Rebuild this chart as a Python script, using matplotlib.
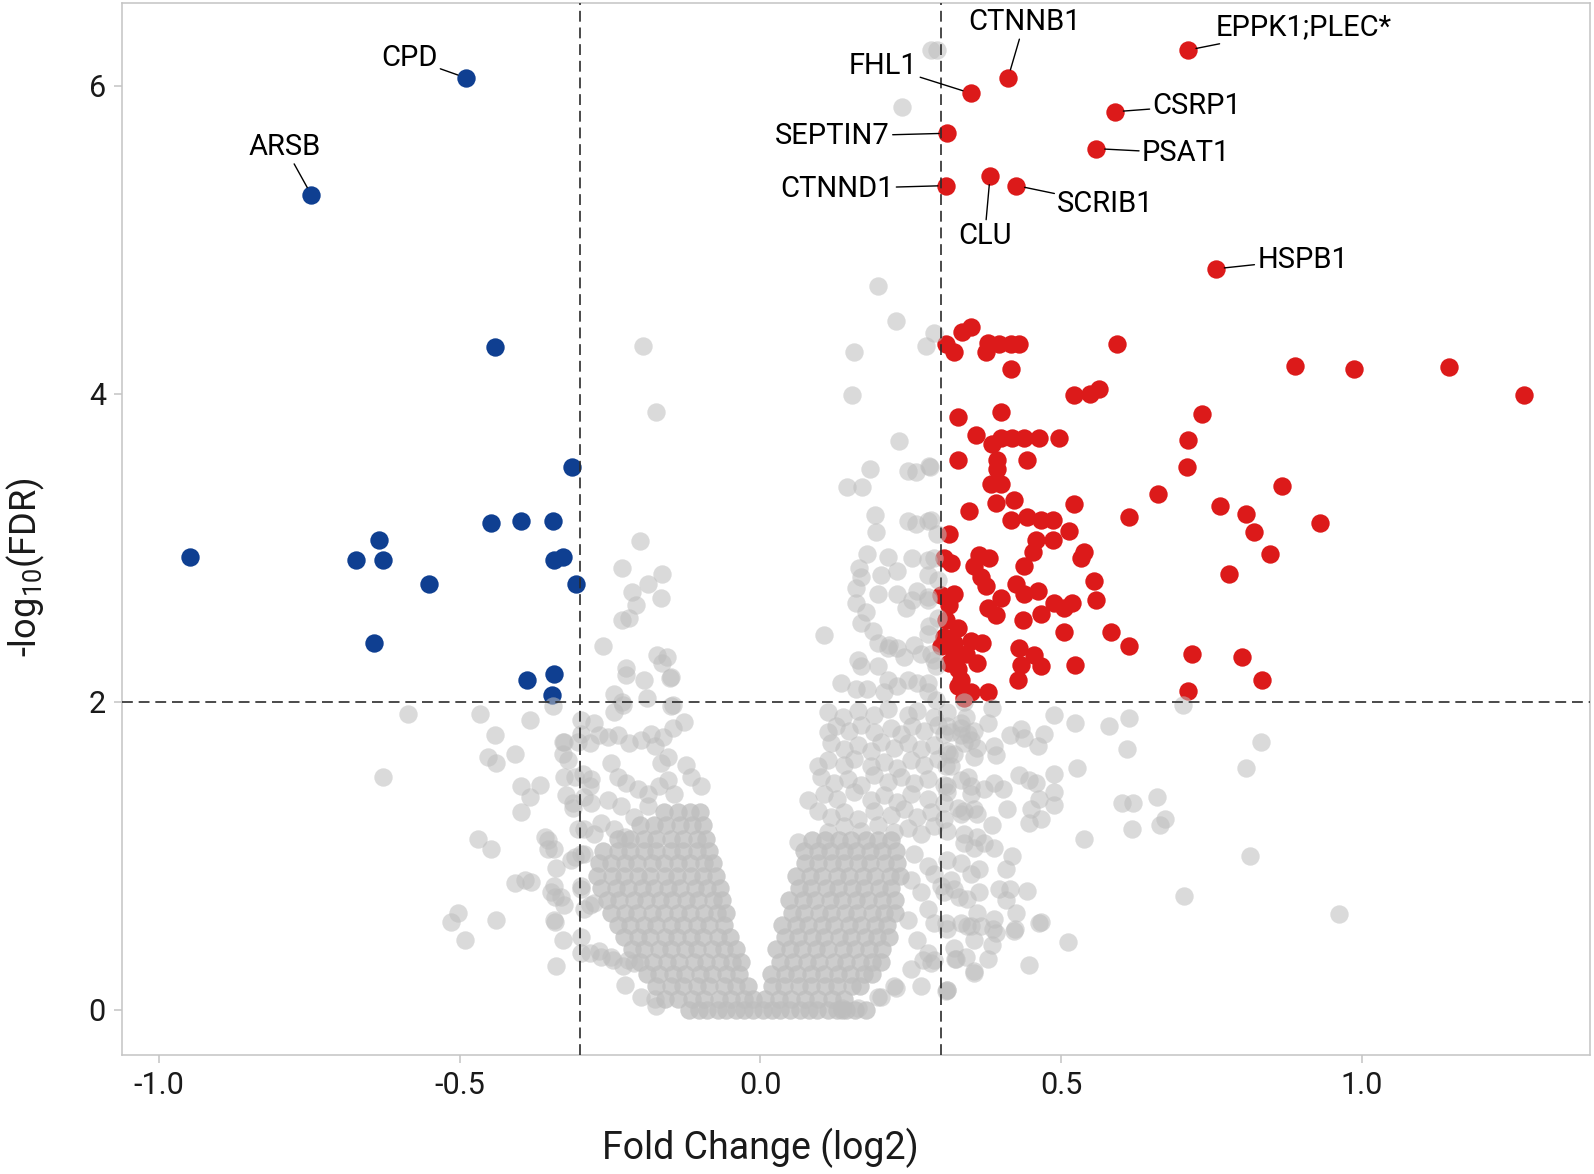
import matplotlib
matplotlib.use("Agg")
import matplotlib.pyplot as plt

plt.rcParams['font.family'] = ['Roboto', 'DejaVu Sans']
plt.rcParams['mathtext.default'] = 'regular'
plt.rcParams['axes.unicode_minus'] = False

# Thresholds
FC_CUT = 0.3
FDR_CUT = 2

# Labelled proteins: point (log2 FC, -log10 FDR) and label position
label_genes = ['CPD', 'ARSB', 'CTNNB1', 'EPPK1;PLEC*', 'FHL1', 'CSRP1',
               'SEPTIN7', 'PSAT1', 'CTNND1', 'CLU', 'SCRIB1', 'HSPB1']
label_fc = [-0.490, -0.747, 0.412, 0.711, 0.350, 0.590,
            0.311, 0.559, 0.309, 0.382, 0.426, 0.758]
label_fdr = [6.05, 5.29, 6.05, 6.23, 5.95, 5.83,
             5.69, 5.59, 5.35, 5.41, 5.35, 4.81]
label_text_x = [-0.584, -0.791, 0.439, 0.904, 0.204, 0.726,
                0.120, 0.708, 0.127, 0.373, 0.574, 0.902]
label_text_y = [6.18, 5.60, 6.41, 6.38, 6.13, 5.87,
                5.67, 5.56, 5.33, 5.02, 5.23, 4.87]

# Down-regulated (blue), unlabelled
down_fc = [-0.441, -0.314, -0.448, -0.399, -0.345, -0.948, -0.635, -0.672,
           -0.628, -0.343, -0.328, -0.306, -0.552, -0.642, -0.389, -0.343, -0.346]
down_fdr = [4.30, 3.52, 3.16, 3.17, 3.17, 2.94, 3.05, 2.92,
            2.92, 2.92, 2.94, 2.76, 2.76, 2.38, 2.14, 2.18, 2.04]

# Up-regulated (red), unlabelled
up_fc = [0.350, 0.336, 0.308, 0.322, 0.375, 0.378, 0.397, 0.417, 0.430, 0.417,
         0.594, 0.522, 0.549, 0.563, 0.328, 0.400, 0.358, 0.386, 0.400, 0.419,
         0.439, 0.464, 0.497, 0.328, 0.394, 0.394, 0.444, 0.383, 0.400, 0.392,
         0.422, 0.347, 0.522, 0.613, 0.417, 0.444, 0.466, 0.486, 0.513, 0.314,
         0.458, 0.486, 0.453, 0.364, 0.380, 0.306, 0.317, 0.538, 0.533, 0.356,
         0.367, 0.375, 0.439, 0.555, 0.425, 0.439, 0.461, 0.300, 0.322, 0.314,
         0.400, 0.378, 0.392, 0.558, 0.436, 0.466, 0.488, 0.505, 0.519, 0.308,
         0.328, 0.306, 0.505, 0.583, 0.613, 0.300, 0.322, 0.350, 0.369, 0.342,
         0.322, 0.430, 0.455, 0.466, 0.433, 0.524, 0.314, 0.328, 0.361, 0.333,
         0.328, 0.350, 0.378, 0.428, 0.338,
         0.889, 0.988, 1.145, 1.270, 0.735, 0.711, 0.709, 0.867, 0.662, 0.765,
         0.807, 0.821, 0.931, 0.848, 0.779, 0.718, 0.801, 0.835, 0.711]
up_fdr = [4.43, 4.40, 4.32, 4.27, 4.27, 4.33, 4.32, 4.32, 4.32, 4.16,
          4.32, 3.99, 4.00, 4.03, 3.85, 3.88, 3.73, 3.67, 3.71, 3.71,
          3.71, 3.71, 3.71, 3.57, 3.57, 3.51, 3.57, 3.41, 3.41, 3.29,
          3.31, 3.24, 3.28, 3.20, 3.18, 3.20, 3.18, 3.18, 3.11, 3.09,
          3.05, 3.05, 2.97, 2.95, 2.93, 2.93, 2.90, 2.97, 2.93, 2.88,
          2.81, 2.75, 2.88, 2.78, 2.76, 2.70, 2.72, 2.69, 2.70, 2.63,
          2.67, 2.61, 2.56, 2.66, 2.53, 2.57, 2.64, 2.61, 2.64, 2.53,
          2.48, 2.42, 2.45, 2.45, 2.36, 2.36, 2.38, 2.39, 2.38, 2.31,
          2.31, 2.35, 2.30, 2.23, 2.24, 2.24, 2.25, 2.21, 2.25, 2.14,
          2.10, 2.06, 2.06, 2.14, 2.02,
          4.18, 4.16, 4.17, 3.99, 3.87, 3.70, 3.52, 3.40, 3.35, 3.27,
          3.22, 3.10, 3.16, 2.96, 2.83, 2.31, 2.29, 2.14, 2.07]

# Not significant (grey), dense V-shaped core: rows of (-log10 FDR, [log2 FC ...])
gray_floor_fc = [-0.102, -0.088, -0.071, -0.058, -0.041, -0.027, -0.012, 0.004, 0.019,
                 0.033, 0.049, 0.066, 0.081, 0.094, 0.112, 0.127, 0.143, 0.158, 0.176,
                 -0.118, 0.136]

gray_left_rows = [
    (0.07, [-0.158, -0.137, -0.113, -0.093, -0.069, -0.049, -0.027, -0.012]),
    (0.15, [-0.173, -0.149, -0.128, -0.105, -0.085, -0.061, -0.041, -0.021]),
    (0.23, [-0.189, -0.168, -0.145, -0.125, -0.101, -0.081, -0.057, -0.036]),
    (0.31, [-0.201, -0.179, -0.155, -0.135, -0.111, -0.091, -0.067, -0.047, -0.033]),
    (0.39, [-0.213, -0.193, -0.169, -0.149, -0.125, -0.105, -0.081, -0.061, -0.041]),
    (0.47, [-0.227, -0.203, -0.183, -0.159, -0.139, -0.115, -0.095, -0.071, -0.050]),
    (0.55, [-0.237, -0.217, -0.193, -0.173, -0.149, -0.129, -0.105, -0.085, -0.061]),
    (0.63, [-0.249, -0.225, -0.205, -0.181, -0.161, -0.137, -0.117, -0.093, -0.073, -0.058]),
    (0.71, [-0.255, -0.235, -0.211, -0.191, -0.167, -0.147, -0.123, -0.103, -0.079, -0.064]),
    (0.79, [-0.265, -0.241, -0.221, -0.197, -0.177, -0.153, -0.133, -0.109, -0.089, -0.068]),
    (0.87, [-0.271, -0.247, -0.227, -0.203, -0.183, -0.159, -0.139, -0.115, -0.095, -0.074]),
    (0.95, [-0.269, -0.249, -0.225, -0.205, -0.181, -0.161, -0.137, -0.117, -0.093, -0.078]),
    (1.03, [-0.261, -0.237, -0.217, -0.193, -0.173, -0.149, -0.129, -0.105, -0.086]),
    (1.11, [-0.237, -0.217, -0.193, -0.173, -0.149, -0.129, -0.105, -0.090]),
    (1.20, [-0.201, -0.177, -0.157, -0.133, -0.113, -0.095]),
    (1.28, [-0.161, -0.137, -0.117, -0.100]),
]

gray_right_rows = [
    (0.07, [0.008, 0.031, 0.051, 0.075, 0.095, 0.119, 0.139]),
    (0.15, [0.019, 0.040, 0.064, 0.084, 0.108, 0.128, 0.152, 0.165]),
    (0.23, [0.018, 0.041, 0.061, 0.085, 0.105, 0.129, 0.149, 0.173, 0.185]),
    (0.31, [0.033, 0.054, 0.078, 0.098, 0.122, 0.142, 0.166, 0.186, 0.200]),
    (0.39, [0.026, 0.049, 0.069, 0.093, 0.113, 0.137, 0.157, 0.181, 0.202]),
    (0.47, [0.041, 0.062, 0.086, 0.106, 0.130, 0.150, 0.174, 0.194, 0.214]),
    (0.55, [0.036, 0.059, 0.079, 0.103, 0.123, 0.147, 0.167, 0.191, 0.211]),
    (0.63, [0.052, 0.073, 0.097, 0.117, 0.141, 0.161, 0.185, 0.205, 0.224]),
    (0.71, [0.048, 0.071, 0.091, 0.115, 0.135, 0.159, 0.179, 0.203, 0.224]),
    (0.79, [0.064, 0.085, 0.109, 0.129, 0.153, 0.173, 0.197, 0.217]),
    (0.87, [0.060, 0.083, 0.103, 0.127, 0.147, 0.171, 0.191, 0.215, 0.232]),
    (0.95, [0.074, 0.095, 0.119, 0.139, 0.163, 0.183, 0.207, 0.227]),
    (1.03, [0.072, 0.095, 0.115, 0.139, 0.159, 0.183, 0.203, 0.226]),
    (1.10, [0.086, 0.107, 0.131, 0.151, 0.175, 0.195, 0.218]),
]

# Not significant (grey), busy area above the right arm (log2 FC, -log10 FDR)
gray_upper_right = [
    (0.112, 1.15), (0.139, 1.19), (0.167, 1.16), (0.195, 1.20), (0.222, 1.15),
    (0.245, 1.18), (0.267, 1.14), (0.289, 1.19), (0.311, 1.16),
    (0.095, 1.29), (0.117, 1.25), (0.139, 1.28), (0.162, 1.24), (0.189, 1.29),
    (0.217, 1.26), (0.239, 1.30), (0.261, 1.25), (0.283, 1.28), (0.306, 1.24), (0.339, 1.29),
    (0.079, 1.36), (0.106, 1.40), (0.128, 1.37), (0.156, 1.41), (0.184, 1.36),
    (0.206, 1.39), (0.228, 1.35), (0.250, 1.40), (0.278, 1.37), (0.311, 1.41),
    (0.101, 1.51), (0.123, 1.47), (0.145, 1.50), (0.167, 1.46), (0.189, 1.52),
    (0.212, 1.48), (0.234, 1.51), (0.256, 1.47), (0.278, 1.50), (0.306, 1.46), (0.345, 1.51),
    (0.095, 1.58), (0.112, 1.62), (0.139, 1.59), (0.156, 1.63), (0.184, 1.58),
    (0.206, 1.61), (0.228, 1.57), (0.250, 1.62), (0.272, 1.59), (0.295, 1.63), (0.317, 1.58),
    (0.117, 1.73), (0.139, 1.69), (0.162, 1.72), (0.184, 1.68), (0.200, 1.74),
    (0.223, 1.70), (0.245, 1.73), (0.267, 1.69), (0.289, 1.72), (0.311, 1.68),
    (0.339, 1.73), (0.361, 1.70),
    (0.112, 1.80), (0.126, 1.84), (0.148, 1.81), (0.167, 1.85), (0.189, 1.80),
    (0.217, 1.83), (0.234, 1.79), (0.253, 1.84), (0.272, 1.81), (0.295, 1.85),
    (0.317, 1.80), (0.333, 1.83), (0.356, 1.81),
    (0.112, 1.93), (0.137, 1.90), (0.162, 1.94), (0.189, 1.91), (0.212, 1.95),
    (0.245, 1.91), (0.261, 1.94), (0.289, 1.90), (0.311, 1.93),
]

# Not significant (grey): scattered points
gray_fc = [
    # above the FDR line, right of zero
    0.284, 0.293, 0.235, 0.195, 0.225, 0.289, 0.275, 0.155, 0.153, 0.231,
    0.183, 0.245, 0.259, 0.282, 0.144, 0.169, 0.191, 0.193, 0.245, 0.259,
    0.278, 0.294, 0.177, 0.212, 0.228, 0.253, 0.289, 0.164, 0.167, 0.159,
    0.200, 0.195, 0.228, 0.261, 0.278, 0.295, 0.159, 0.176, 0.242, 0.253,
    0.278, 0.167, 0.187, 0.106, 0.281, 0.295, 0.214, 0.256, 0.281, 0.283,
    0.278, 0.278, 0.278, 0.283, 0.292, 0.278, 0.292, 0.195, 0.212, 0.228,
    0.239, 0.267, 0.289, 0.162, 0.167, 0.195, 0.212, 0.228, 0.245, 0.261,
    0.278, 0.134, 0.159, 0.178, 0.206,
    # above the FDR line, left of zero
    -0.196, -0.173, -0.201, -0.231, -0.214, -0.187, -0.163, -0.165, -0.207, -0.231,
    -0.218, -0.261, -0.172, -0.155, -0.163, -0.223, -0.193, -0.150, -0.244, -0.231,
    -0.189, -0.146, -0.223, -0.243, -0.229, -0.149, -0.149, -0.345,
    # below the FDR line, left side
    -0.586, -0.467, -0.384, -0.442, -0.453, -0.439, -0.409, -0.628, -0.398, -0.384,
    -0.367, -0.398, -0.329, -0.320, -0.326, -0.323, -0.312, -0.298, -0.276, -0.284,
    -0.298, -0.295, -0.284, -0.281, -0.293, -0.470, -0.448, -0.359, -0.353, -0.340,
    -0.315, -0.298, -0.409, -0.392, -0.381, -0.348, -0.342, -0.326, -0.298, -0.284,
    -0.503, -0.514, -0.492, -0.439, -0.342, -0.329, -0.340, -0.284, -0.268, -0.248,
    -0.221, -0.254, -0.268, -0.237, -0.218, -0.198, -0.182, -0.162, -0.146, -0.127,
    -0.176, -0.165, -0.154, -0.124, -0.115, -0.099, -0.309, -0.282, -0.312, -0.293,
    -0.248, -0.237, -0.223, -0.204, -0.187, -0.168, -0.154, -0.143, -0.254, -0.232,
    -0.210, -0.187, -0.265, -0.243, -0.226, -0.276, -0.304, -0.293, -0.309, -0.343,
    -0.354, -0.343, -0.331, -0.298, -0.276, -0.293, -0.343, -0.298, -0.298, -0.265,
    -0.246, -0.226, -0.229, -0.210, -0.174, -0.198, -0.176, -0.304, -0.326, -0.329,
    # below the FDR line, right side
    0.339, 0.342, 0.378, 0.386, 0.488, 0.524, 0.580, 0.613, 0.610, 0.703,
    0.833, 0.807, 0.527, 0.488, 0.430, 0.447, 0.458, 0.389, 0.392, 0.350,
    0.333, 0.311, 0.306, 0.314, 0.308, 0.311, 0.306, 0.333, 0.356, 0.350,
    0.372, 0.389, 0.403, 0.411, 0.386, 0.464, 0.488, 0.488, 0.450, 0.447,
    0.466, 0.361, 0.372, 0.389, 0.419, 0.408, 0.364, 0.339, 0.311, 0.317,
    0.306, 0.331, 0.364, 0.397, 0.416, 0.444, 0.408, 0.425, 0.389, 0.344,
    0.367, 0.392, 0.422, 0.464, 0.511, 0.386, 0.378, 0.325, 0.342, 0.356,
    0.447, 0.308, 0.308, 0.416, 0.439, 0.461, 0.472, 0.433, 0.602, 0.619,
    0.660, 0.673, 0.664, 0.618, 0.539, 0.814, 0.705, 0.962,
    0.256, 0.278, 0.250, 0.289, 0.267, 0.300, 0.278, 0.245, 0.289, 0.311,
    0.261, 0.278, 0.289, 0.250, 0.267, 0.311, 0.223, 0.200,
    0.333, 0.345, 0.322, 0.355, 0.333, 0.350, 0.328, 0.361, 0.339, 0.355,
    0.333, 0.350, 0.322, 0.344, 0.361, 0.333, 0.355, 0.322,
    0.226, 0.195, 0.163, 0.136, 0.356, 0.324, 0.311, 0.284, 0.270, 0.467,
    0.423, 0.387, 0.351, 0.062,
]
gray_fdr = [
    6.23, 6.23, 5.86, 4.70, 4.47, 4.39, 4.31, 4.27, 3.99, 3.69,
    3.51, 3.50, 3.49, 3.52, 3.39, 3.39, 3.21, 3.10, 3.17, 3.15,
    3.17, 3.09, 2.96, 2.94, 2.85, 2.93, 2.93, 2.87, 2.81, 2.74,
    2.82, 2.70, 2.70, 2.72, 2.82, 2.79, 2.64, 2.58, 2.61, 2.66,
    2.68, 2.51, 2.46, 2.43, 2.49, 2.54, 2.37, 2.37, 3.53, 3.18,
    2.92, 2.66, 2.44, 2.31, 2.23, 2.12, 2.01, 2.38, 2.35, 2.35,
    2.29, 2.31, 2.27, 2.27, 2.23, 2.23, 2.14, 2.10, 2.14, 2.12,
    2.06, 2.12, 2.08, 2.08, 2.06,
    4.31, 3.88, 3.04, 2.87, 2.71, 2.76, 2.83, 2.67, 2.63, 2.53,
    2.54, 2.36, 2.30, 2.29, 2.25, 2.22, 2.14, 2.15, 2.05, 2.00,
    2.02, 1.98, 2.17, 1.93, 1.98, 1.97, 2.16, 1.97,
    1.92, 1.92, 1.88, 1.78, 1.64, 1.60, 1.66, 1.51, 1.45, 1.38,
    1.46, 1.28, 1.74, 1.62, 1.51, 1.39, 1.31, 1.88, 1.86, 1.73,
    1.79, 1.53, 1.45, 1.34, 1.17, 1.11, 1.04, 1.12, 1.04, 0.92,
    0.97, 1.01, 0.82, 0.84, 0.83, 0.76, 0.73, 0.68, 0.78, 0.68,
    0.63, 0.57, 0.45, 0.58, 0.57, 0.45, 0.28, 0.37, 0.38, 0.34,
    0.32, 1.77, 1.78, 1.78, 1.73, 1.75, 1.79, 1.77, 1.83, 1.87,
    1.71, 1.60, 1.64, 1.59, 1.51, 1.45, 1.51, 1.50, 1.34, 1.38,
    1.60, 1.51, 1.47, 1.43, 1.40, 1.45, 1.49, 1.40, 1.36, 1.32,
    1.25, 1.32, 1.21, 1.17, 1.12, 1.14, 1.17, 1.01, 0.99, 1.04,
    1.10, 0.80, 0.73, 0.80, 0.69, 0.65, 0.58, 0.47, 0.37, 0.34,
    0.32, 0.16, 0.28, 0.30, 0.02, 0.08, 0.07, 1.74, 1.74, 1.66,
    2.00, 1.90, 1.86, 1.96, 1.91, 1.86, 1.84, 1.89, 1.69, 1.98,
    1.74, 1.57, 1.57, 1.53, 1.52, 1.49, 1.47, 1.71, 1.65, 1.75,
    1.78, 1.84, 1.79, 1.66, 1.58, 1.45, 1.34, 1.27, 1.30, 1.45,
    1.43, 1.47, 1.43, 1.30, 1.20, 1.37, 1.41, 1.33, 1.30, 1.21,
    1.24, 1.12, 1.08, 1.05, 1.00, 0.91, 0.91, 1.08, 0.97, 0.84,
    0.76, 0.73, 0.76, 0.78, 0.78, 0.77, 0.71, 0.63, 0.59, 0.54,
    0.54, 0.50, 0.51, 0.56, 0.44, 0.42, 0.33, 0.33, 0.34, 0.24,
    0.29, 0.12, 0.56, 1.78, 1.76, 1.71, 1.79, 1.82, 1.34, 1.34,
    1.38, 1.24, 1.20, 1.17, 1.11, 1.00, 0.74, 0.62,
    1.01, 0.93, 0.84, 0.88, 0.76, 0.80, 0.65, 0.58, 0.56, 0.52,
    0.45, 0.37, 0.32, 0.26, 0.15, 0.13, 0.15, 0.08,
    1.86, 1.79, 1.66, 1.64, 1.49, 1.40, 1.31, 1.27, 1.14, 1.05,
    0.95, 0.88, 0.78, 0.72, 0.63, 0.56, 0.45, 0.40,
    0.14, 0.08, 0.01, 0.01, 0.25, 0.33, 0.13, 0.30, 0.32, 0.57,
    0.52, 0.52, 0.54, 1.09,
]

# Colours
UP_COLOR = '#DC1A1A'
DOWN_COLOR = '#0F3F91'
NS_COLOR = '#BDBDBD'
AXIS_GREY = '#C4C4C4'

# Collect grey points: dense core and the scattered rest
core_x = list(gray_floor_fc)
core_y = [0.0] * len(gray_floor_fc)
for y, xs in gray_left_rows + gray_right_rows:
    core_x += xs
    core_y += [y] * len(xs)

ns_x = list(gray_fc) + [p[0] for p in gray_upper_right]
ns_y = list(gray_fdr) + [p[1] for p in gray_upper_right]

up_x = up_fc + [x for x in label_fc if x > 0]
up_y = up_fdr + [y for x, y in zip(label_fc, label_fdr) if x > 0]
down_x = down_fc + [x for x in label_fc if x < 0]
down_y = down_fdr + [y for x, y in zip(label_fc, label_fdr) if x < 0]

# Plot
fig = plt.figure(figsize=(15.94, 11.74), dpi=100)
ax = fig.add_axes([0.0765, 0.1014, 0.9210, 0.8958])

PT_SIZE = 175
ax.scatter(up_x, up_y, s=PT_SIZE, color=UP_COLOR, linewidths=0, zorder=2)
ax.scatter(down_x, down_y, s=PT_SIZE, color=DOWN_COLOR, linewidths=0, zorder=2)
ax.scatter(core_x, core_y, s=PT_SIZE, color=NS_COLOR, alpha=0.75, linewidths=0, zorder=3)
ax.scatter(ns_x, ns_y, s=PT_SIZE, color=NS_COLOR, alpha=0.55, linewidths=0, zorder=3)

# Threshold lines
dash = (0, (6.5, 3.5))
for xv in (-FC_CUT, FC_CUT):
    ax.axvline(xv, color='#2B2B2B', lw=1.2, linestyle=dash, zorder=4)
ax.axhline(FDR_CUT, color='#2B2B2B', lw=1.2, linestyle=dash, zorder=4)

# Labels with leader lines
for name, px, py, tx, ty in zip(label_genes, label_fc, label_fdr, label_text_x, label_text_y):
    ax.annotate(name, xy=(px, py), xytext=(tx, ty), textcoords='data',
                ha='center', va='center', fontsize=21, color='black', zorder=5,
                arrowprops=dict(arrowstyle='-', color='black', lw=1.0,
                                shrinkA=0, shrinkB=6))

# Axes
ax.set_xlim(-1.062, 1.380)
ax.set_ylim(-0.295, 6.534)
ax.set_xticks([-1.0, -0.5, 0.0, 0.5, 1.0])
ax.set_xticklabels(['-1.0', '-0.5', '0.0', '0.5', '1.0'])
ax.set_yticks([0, 2, 4, 6])

for sp in ax.spines.values():
    sp.set_color(AXIS_GREY)
    sp.set_linewidth(1.1)
ax.tick_params(axis='both', length=5.5, width=1.1, color=AXIS_GREY,
               labelsize=22, labelcolor='#1A1A1A', pad=6)

ax.set_xlabel('Fold Change (log2)', fontsize=27, color='#1A1A1A')
ax.set_ylabel('-log$_{10}$(FDR)', fontsize=26, color='#1A1A1A')
ax.xaxis.set_label_coords(0.4346, -0.069)
ax.yaxis.set_label_coords(-0.051, 0.464)

fig.savefig('out.png', dpi=100)
